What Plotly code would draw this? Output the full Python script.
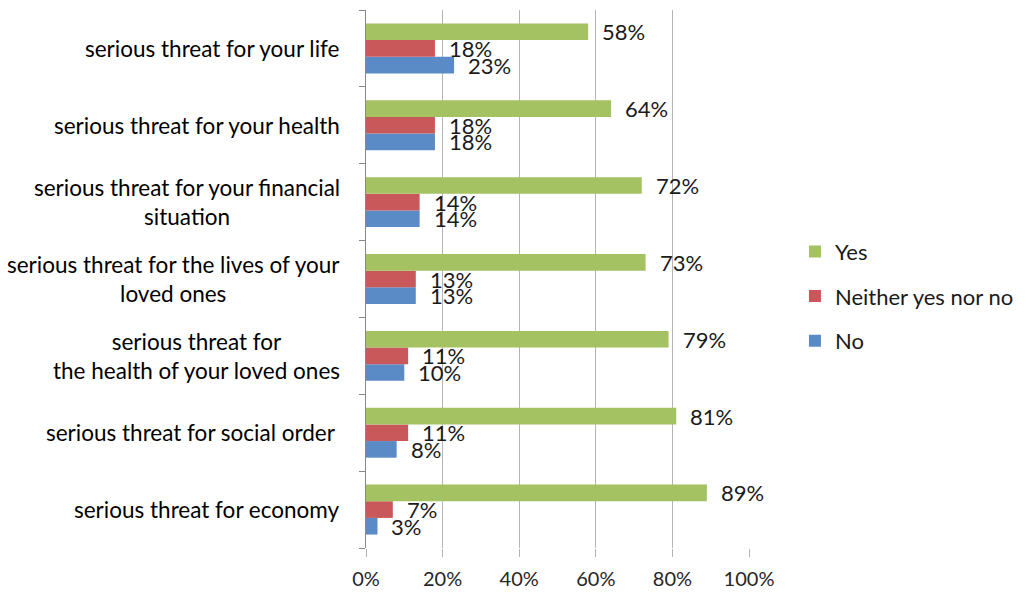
import plotly.graph_objects as go

categories = [
    "serious threat for economy",
    "serious threat for social order ",
    "serious threat for<br>the health of your loved ones",
    "serious threat for the lives of your<br>loved ones",
    "serious threat for your financial<br>situation",
    "serious threat for your health",
    "serious threat for your life",
]
no_vals = [3, 8, 10, 13, 14, 18, 23]
neither_vals = [7, 11, 11, 13, 14, 18, 18]
yes_vals = [89, 81, 79, 73, 72, 64, 58]

series = [
    ("No", no_vals, "#5b8bc6", 3),
    ("Neither yes nor no", neither_vals, "#c8585a", 2),
    ("Yes", yes_vals, "#a5c263", 1),
]

FONT = "Lato, Carlito, 'Open Sans', sans-serif"
BARGAP = 0.35
n = len(series)
bw = (1 - BARGAP) / n

fig = go.Figure()
annotations = []
for k, (name, vals, color, rank) in enumerate(series):
    fig.add_trace(go.Bar(
        y=list(range(len(categories))), x=vals, orientation="h", name=name,
        marker=dict(color=color, line=dict(width=0)),
        legendgroup=name, legendrank=rank,
    ))
    off = (k - (n - 1) / 2) * bw
    for i, v in enumerate(vals):
        annotations.append(dict(
            x=v, y=i + off, xref="x", yref="y", text=f"{v}%",
            showarrow=False, xanchor="left", yanchor="middle", xshift=12,
            font=dict(family=FONT, size=22, color="#1a1a1a"),
        ))

for i, c in enumerate(categories):
    annotations.append(dict(
        x=0, y=i, xref="paper", yref="y", text=c, showarrow=False,
        xanchor="right", yanchor="middle", align="center", xshift=-24,
        font=dict(family=FONT, size=22.5, color="#000000"),
    ))

fig.update_layout(
    width=1026, height=594,
    margin=dict(l=366, r=277, t=10, b=46, autoexpand=False),
    paper_bgcolor="white", plot_bgcolor="white",
    barmode="group", bargap=BARGAP, bargroupgap=0,
    showlegend=True,
    legend=dict(
        x=1.12, y=0.468, xanchor="left", yanchor="middle",
        traceorder="grouped", tracegroupgap=13,
        font=dict(family=FONT, size=22, color="#1a1a1a"),
        bgcolor="rgba(0,0,0,0)",
    ),
    annotations=annotations,
    font=dict(family=FONT),
)
fig.update_xaxes(
    range=[0, 100], tickvals=[0, 20, 40, 60, 80, 100],
    ticktext=["0%", "20%", "40%", "60%", "80%", "100%"],
    showgrid=True, gridcolor="#b4b4b4", gridwidth=1,
    ticks="outside", ticklen=8, tickcolor="#b4b4b4",
    ticklabelstandoff=5,
    showline=False, zeroline=False,
    tickfont=dict(family=FONT, size=20, color="#262626"),
)
fig.update_yaxes(
    range=[-0.5, len(categories) - 0.5],
    tickvals=[i - 0.5 for i in range(len(categories) + 1)],
    showticklabels=False, ticks="outside", ticklen=6, tickcolor="#888888",
    showline=True, linecolor="#888888", linewidth=1,
    showgrid=False, zeroline=False,
)
fig.write_html("out.html")
